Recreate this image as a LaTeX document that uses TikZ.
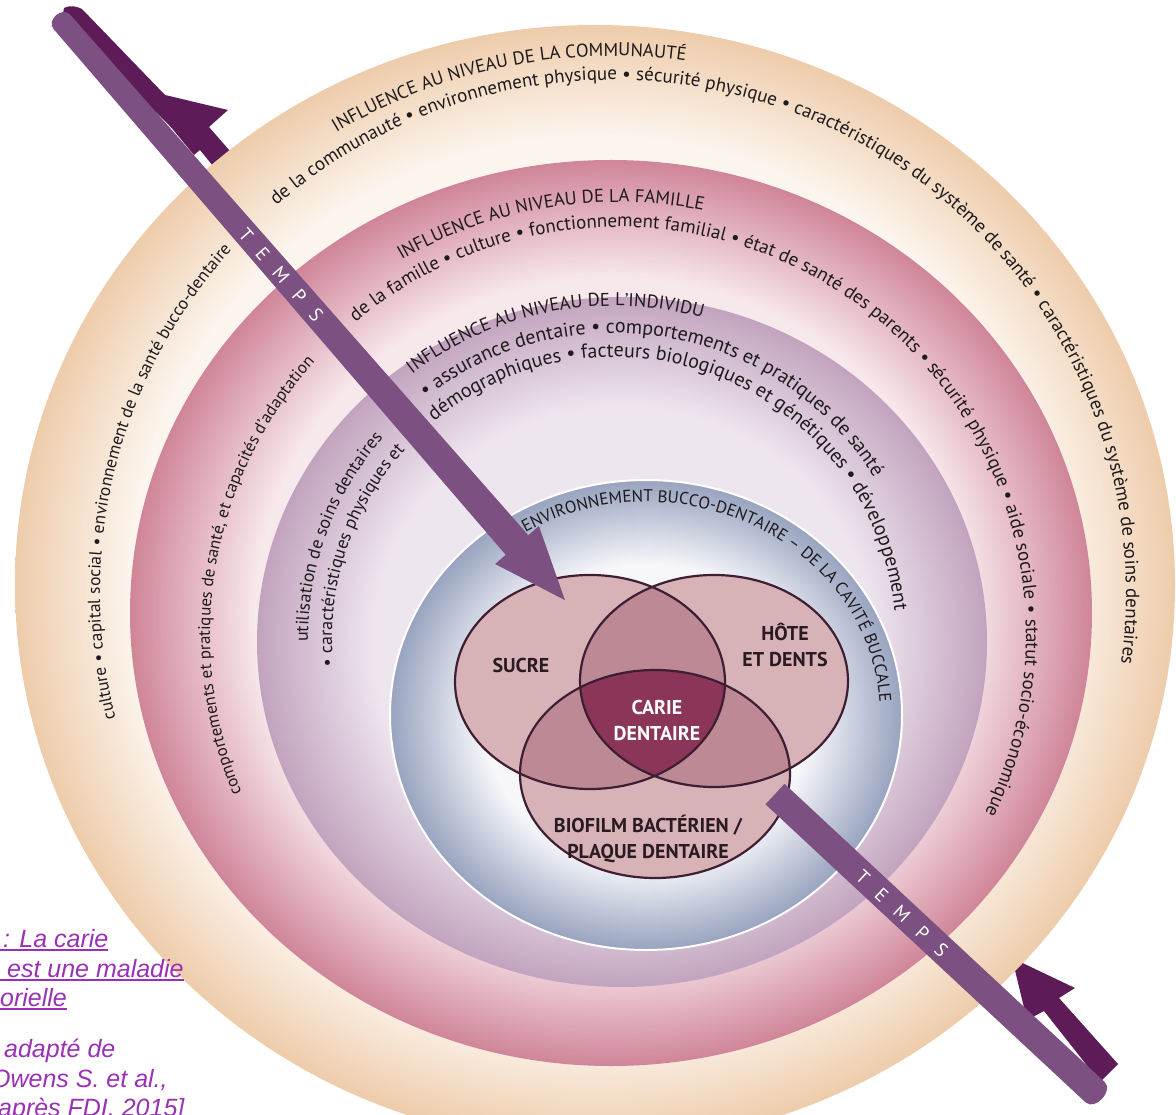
\documentclass[tikz,border=0pt]{standalone}
\usepackage{fontspec}
\usepackage{xcolor}
\usepackage{tikz}
\usetikzlibrary{calc,positioning,decorations.text}
\setmainfont{PT Sans}
\newfontfamily\captionfont{Liberation Sans}

% colours of the rings, the Venn and the ribbon
\definecolor{commout}{HTML}{EECCAB}
\definecolor{commin}{HTML}{FCF5EE}
\definecolor{famout}{HTML}{D08599}
\definecolor{famin}{HTML}{F7E8EC}
\definecolor{indout}{HTML}{C2A3BE}
\definecolor{indin}{HTML}{EEE6EE}
\definecolor{envout}{HTML}{98A3BF}
\definecolor{envin}{HTML}{F7F7FA}
\definecolor{vennone}{HTML}{D7B2B6}
\definecolor{venntwo}{HTML}{BC8995}
\definecolor{vennall}{HTML}{8B3658}
\definecolor{vennline}{HTML}{3E1E32}
\definecolor{venntext}{HTML}{2A1A22}
\definecolor{ringtext}{HTML}{1E1A1C}
\definecolor{tempslight}{HTML}{7C5080}
\definecolor{tempsdark}{HTML}{5D1C57}
\definecolor{captext}{HTML}{9A30B4}

\pgfdeclareradialshading{ringcomm}{\pgfpoint{0bp}{0bp}}{%
  color(0bp)=(commin); color(20bp)=(commin); color(25bp)=(commout); color(50bp)=(commout)}
\pgfdeclareradialshading{ringfam}{\pgfpoint{0bp}{0bp}}{%
  color(0bp)=(famin); color(18.5bp)=(famin); color(25bp)=(famout); color(50bp)=(famout)}
\pgfdeclareradialshading{ringind}{\pgfpoint{0bp}{0bp}}{%
  color(0bp)=(indin); color(17bp)=(indin); color(25bp)=(indout); color(50bp)=(indout)}
\pgfdeclareradialshading{ringenv}{\pgfpoint{0bp}{0bp}}{%
  color(0bp)=(envin); color(16bp)=(envin); color(25bp)=(envout); color(50bp)=(envout)}

\newcommand{\ringfont}{\fontsize{19}{19}\selectfont}
\newcommand{\sidefont}{\fontsize{17.5}{17.5}\selectfont}
\newcommand{\indfont}{\fontsize{20}{20}\selectfont}
\newcommand{\indside}{\fontsize{18}{18}\selectfont}
\newcommand{\headfont}{\fontsize{18.5}{18.5}\selectfont}
\newcommand{\envfont}{\fontsize{17}{17}\selectfont}
\newcommand{\capuline}[1]{\setbox0\hbox{#1}\rlap{\rule[-4pt]{\wd0}{1.8pt}}\box0}

\begin{document}
\begin{tikzpicture}[x=1pt, y=-1pt,
    venn/.style={draw=vennline, line width=2.2pt},
    vennlabel/.style={font=\fontsize{20}{26}\selectfont\bfseries, text=venntext, align=center, inner sep=0pt},
    arctext/.style={decorate, decoration={text along path, text color=ringtext, text align=#1}},
    tempstext/.style={font=\fontsize{19}{19}\selectfont\addfontfeatures{LetterSpace=80}, text=white, inner sep=0pt},
    captext/.style={font=\captionfont\itshape\fontsize{25}{25}\selectfont, text=captext, anchor=base west, inner sep=0pt}]
\useasboundingbox (0,0) rectangle (1176,1115);

% centres of the rings and of the text lines
\coordinate (commc) at (595,585);
\coordinate (famc) at (611,613);
\coordinate (indc) at (622,642);
\coordinate (envc) at (646,715);
\coordinate (commt) at (613,593);
\coordinate (famt) at (618,635);
\coordinate (indt) at (614,639);

% back of the ribbon
\fill[tempsdark] (64,8) .. controls (70,5) and (76,6) .. (82,9) -- (165,95) -- (228,110) -- (209,127) -- (243,166)
  -- (226,182) -- (200,150) -- (194,155) -- (170,126) -- (62,20) -- cycle;
\fill[tempsdark] (1012,958) -- (1075,988) -- (1059,998) -- (1118,1064)
  -- (1100,1082) -- (1044,1011) -- (1027,1020) -- cycle;

% rings
\shade[shading=ringcomm] (commc) ellipse[x radius=580, y radius=560];
\shade[shading=ringfam] (famc) ellipse[x radius=481, y radius=453];
\shade[shading=ringind] (indc) ellipse[x radius=365, y radius=345];
\shadedraw[shading=ringenv, draw=white, line width=2pt] (envc) ellipse[x radius=256, y radius=235];

% community
\path[arctext=left, decoration={text={|\headfont|INFLUENCE AU NIVEAU DE LA COMMUNAUTÉ}}]
  ($(commt)+(239:537)$) arc[start angle=239, end angle=310, radius=537];
\path[arctext=left, decoration={text={|\ringfont|de la communauté • environnement physique • sécurité physique • caractéristiques du système de santé • caractéristiques du système de soins dentaires}}]
  ($(commt)+(229:513)$) arc[start angle=229, end angle=395, radius=513];
\path[arctext=right, decoration={text={|\sidefont|culture • capital social • environnement de la santé bucco-dentaire}}]
  ($(commt)+(130:513)$) arc[start angle=130, end angle=222, radius=513];

% family
\path[arctext=left, decoration={text={|\headfont|INFLUENCE AU NIVEAU DE LA FAMILLE}}]
  ($(famt)+(240:433)$) arc[start angle=240, end angle=310, radius=433];
\path[arctext=left, decoration={text={|\ringfont|de la famille • culture • fonctionnement familial • état de santé des parents • sécurité physique • aide sociale • statut socio-économique}}]
  ($(famt)+(230:408)$) arc[start angle=230, end angle=415, radius=408];
\path[arctext=right, decoration={text={|\fontsize{17}{17}\selectfont|comportements et pratiques de santé, et capacités d’adaptation}}]
  ($(famt)+(120:408)$) arc[start angle=120, end angle=222, radius=408];

% individual
\path[arctext=left, decoration={text={|\headfont|INFLUENCE AU NIVEAU DE L’INDIVIDU}}]
  ($(indt)+(232.7:333)$) arc[start angle=232.7, end angle=320, radius=333];
\path[arctext=left, decoration={text={|\indfont|• assurance dentaire • comportements et pratiques de santé}}]
  ($(indt)+(232:306)$) arc[start angle=232, end angle=360, radius=306];
\path[arctext=left, decoration={text={|\indfont|démographiques • facteurs biologiques et génétiques • développement}}]
  ($(indt)+(230.4:282)$) arc[start angle=230.4, end angle=385, radius=282];
\path[arctext=right, decoration={text={|\indside|utilisation de soins dentaires}}]
  ($(indt)+(140:306)$) arc[start angle=140, end angle=221, radius=306];
\path[arctext=right, decoration={text={|\indside|• caractéristiques physiques et}}]
  ($(indt)+(130:282)$) arc[start angle=130, end angle=222.2, radius=282];

% oral environment
\path[arctext=left, decoration={text={|\envfont|ENVIRONNEMENT BUCCO-DENTAIRE – DE LA CAVITÉ BUCCALE}}]
  ($(envc)+(239:234 and 213)$) arc[start angle=239, end angle=390, x radius=234, y radius=213];

% Venn of the three factors
\coordinate (sucrec) at (590,682);
\coordinate (hotec) at (714,681);
\coordinate (biofc) at (655,774);
\fill[vennone] (sucrec) ellipse[x radius=135, y radius=107];
\fill[vennone] (hotec) ellipse[x radius=134, y radius=106];
\fill[vennone] (biofc) ellipse[x radius=135, y radius=104];
\begin{scope}
  \clip (sucrec) ellipse[x radius=135, y radius=107];
  \fill[venntwo] (hotec) ellipse[x radius=134, y radius=106];
  \fill[venntwo] (biofc) ellipse[x radius=135, y radius=104];
\end{scope}
\begin{scope}
  \clip (hotec) ellipse[x radius=134, y radius=106];
  \fill[venntwo] (biofc) ellipse[x radius=135, y radius=104];
  \clip (biofc) ellipse[x radius=135, y radius=104];
  \fill[vennall] (sucrec) ellipse[x radius=135, y radius=107];
\end{scope}
\draw[venn] (sucrec) ellipse[x radius=135, y radius=107];
\draw[venn] (hotec) ellipse[x radius=134, y radius=106];
\draw[venn] (biofc) ellipse[x radius=135, y radius=104];

\node[vennlabel] (sucre) at (521,665) {SUCRE};
\node[vennlabel] (hote) at (785,645) {HÔTE\\ET DENTS};
\node[vennlabel, text=white] (carie) at (657,720) {CARIE\\DENTAIRE};
\node[vennlabel] (biofilm) at (648,839) {BIOFILM BACTÉRIEN /\\PLAQUE DENTAIRE};

% front of the ribbon
\fill[tempslight] (53.7,29.2) .. controls (45.8,20.1) and (62.4,5.7) .. (70.3,14.8)
  -- (528.3,535.2) -- (538.9,526.0) -- (564.9,600.1) -- (495.1,564.0) -- (505.7,554.8) -- cycle;
\fill[tempslight] (765.5,804.3) -- (1085.5,1102.3) .. controls (1095,1111.2) and (1114,1090.7) .. (1104.5,1081.8)
  -- (784.5,783.8) -- cycle;
\node[tempstext, rotate=-49] (tempsa) at (281,275) {TEMPS};
\node[tempstext, rotate=-42.9] (tempsb) at (902,914) {TEMPS};

% caption
\node[captext] (capa) at (0,947) {\capuline{\hspace{3pt}: La carie}};
\node[captext] (capb) at (0,977) {\capuline{\ est une maladie}};
\node[captext] (capc) at (0,1006) {\capuline{orielle}};
\node[captext] (capd) at (4,1057) {adapté de};
\node[captext] (cape) at (-9,1087) {Owens S. et al.,};
\node[captext] (capf) at (-2,1116) {après FDI, 2015]};
\end{tikzpicture}
\end{document}
